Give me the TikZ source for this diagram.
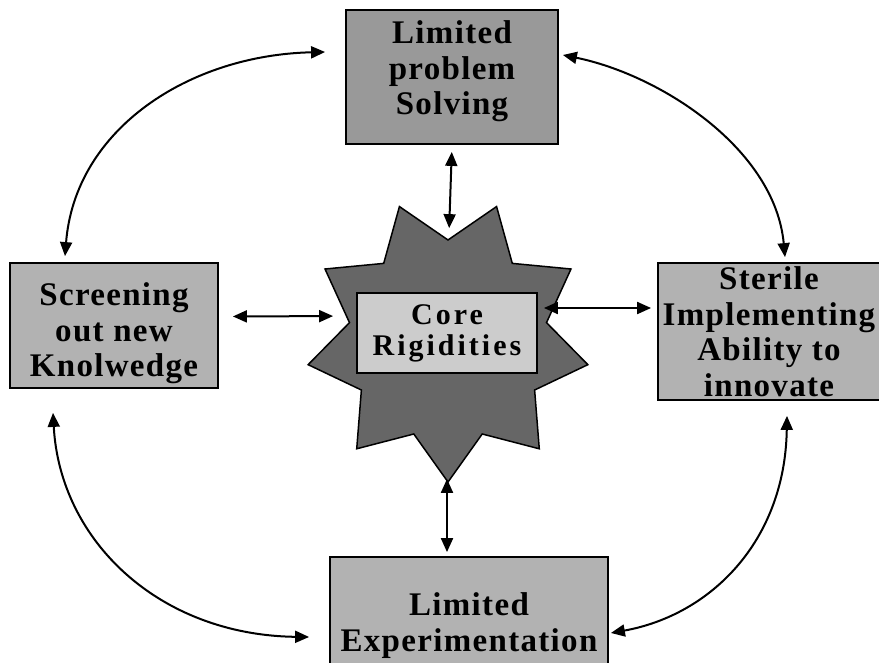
\documentclass[tikz,border=0pt]{standalone}
\usepackage{fontspec}
\setmainfont{Liberation Serif}
\usetikzlibrary{arrows.meta,shapes.geometric}

\definecolor{topgray}{HTML}{999999}
\definecolor{boxgray}{HTML}{B2B2B2}
\definecolor{coregray}{HTML}{CCCCCC}
\definecolor{stargray}{HTML}{666666}

\tikzset{
	box/.style={draw=black, line width=1.8pt, fill=boxgray, inner sep=0pt, align=center,
		font=\fontsize{33}{35.5}\selectfont\bfseries\addfontfeatures{LetterSpace=4}},
	corebox/.style={draw=black, line width=1.8pt, fill=coregray, inner sep=0pt, align=center,
		minimum width=180pt, minimum height=80pt,
		font=\fontsize{30}{31}\selectfont\bfseries\addfontfeatures{LetterSpace=10}},
	burst/.style={star, star points=9, star point ratio=1.42, shape border rotate=180,
		minimum size=284pt, inner sep=0pt, draw=black, line width=1.5pt, fill=stargray},
	biarrow/.style={{Triangle[length=14pt,width=12pt]}-{Triangle[length=14pt,width=12pt]}, line width=2pt},
}

\begin{document}
\begin{tikzpicture}[x=1pt, y=-1pt]
	\useasboundingbox (0,0) rectangle (879,662);

	\node[burst] (star) at (448,340) {};
	\node[corebox] (core) at (447,333) {Core\\Rigidities};

	\node[box, fill=topgray, minimum width=212pt, minimum height=134pt, text depth=18pt] (problem) at (452,77) {Limited\\problem\\Solving};
	\node[box, minimum width=208pt, minimum height=125pt, text height=110pt] (screen) at (114,325.5) {Screening\\out new\\Knolwedge};
	\node[box, minimum width=222pt, minimum height=137pt] (sterile) at (769,331.5) {Sterile\\Implementing\\Ability to\\innovate};
	\node[box, minimum width=278pt, minimum height=137pt] (expt) at (469,625.5) {Limited\\Experimentation};

	% straight links to the core
	\draw[biarrow, shorten <=7pt, shorten >=64pt] (problem.south) -- (core.north);
	\draw[biarrow, shorten <=105pt, shorten >=4pt] (core.south) -- (core.south |- expt.north);
	\draw[biarrow, shorten <=14pt, shorten >=23pt] ([yshift=9pt]screen.east) -- ([yshift=17pt]core.west);
	\draw[biarrow, shorten <=6pt, shorten >=6pt] ([yshift=25pt]core.east) -- ([yshift=23.5pt]sterile.west);

	% outer ring
	\draw[biarrow] ([xshift=-49pt,yshift=6pt]screen.north) .. controls +(10,-127) and +(-136,3) .. ([xshift=-20pt,yshift=25pt]problem.west);
	\draw[biarrow] ([xshift=4pt,yshift=22pt]problem.east) .. controls +(98,20) and +(-10,-108) .. ([xshift=16pt,yshift=5pt]sterile.north);
	\draw[biarrow] ([xshift=-61pt,yshift=-24pt]screen.south) .. controls +(7,128) and +(-150,-2) .. ([xshift=-20pt,yshift=-11.5pt]expt.west);
	\draw[biarrow] ([xshift=18pt,yshift=-15pt]sterile.south) .. controls +(-2,125) and +(100,-18) .. ([xshift=2pt,yshift=-7.5pt]expt.east);
\end{tikzpicture}
\end{document}
